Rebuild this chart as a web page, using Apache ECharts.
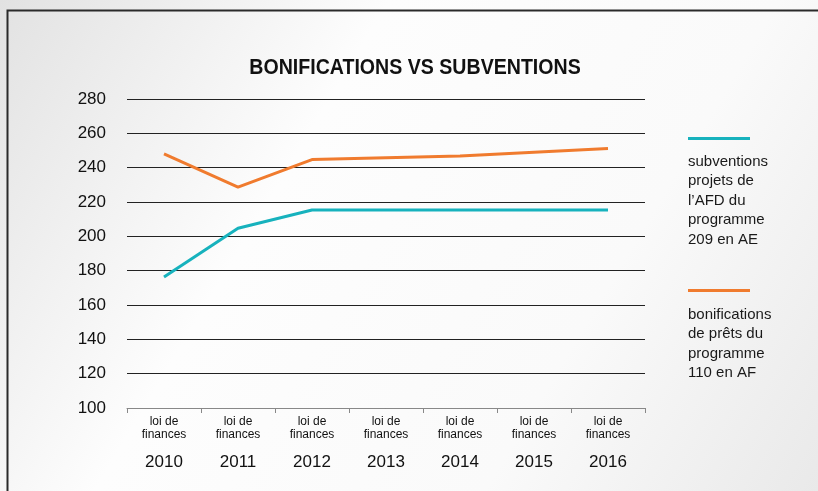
<!DOCTYPE html>
<html><head><meta charset="utf-8">
<script src="https://cdn.jsdelivr.net/npm/echarts@6/dist/echarts.min.js"></script>
<style>html,body{margin:0;padding:0;}#c{width:818px;height:491px;}</style>
</head><body><div id="c"></div>
<script>
var years = ['2010','2011','2012','2013','2014','2015','2016'];
var catPrefix = 'loi de\nfinances';
var yTicks = [100,120,140,160,180,200,220,240,260,280];
var seriesNames = ["subventions\nprojets de\nl\u2019AFD du\nprogramme\n209 en AE", "bonifications\nde prêts du\nprogramme\n110 en AF"];
var subventions = [176.3, 204.7, 215.3, 215.3, 215.3, 215.3, 215.3];
var bonifications = [248, 228.7, 244.7, 245.8, 246.8, 249, 251.2];
var titleText = 'BONIFICATIONS VS SUBVENTIONS';
var colors = ['#17b2bd', '#f07b2e'];
var FF = '"Liberation Sans", Arial, sans-serif';

var chart = echarts.init(document.getElementById('c'));
chart.setOption({
  backgroundColor: {type:'linear', x:0, y:0, x2:1, y2:1, colorStops:[
    {offset:0, color:'#e2e2e2'}, {offset:0.35, color:'#fdfdfd'}, {offset:0.7, color:'#fafafa'}, {offset:1, color:'#e9e9e9'}]},
  animation: false,
  grid: {left: 127, right: 173, top: 99, bottom: 83},
  legend: [0,1].map(function(i){ return {
    data: [seriesNames[i]], left: 688, top: i===0 ? 137 : 289, orient: 'vertical',
    icon: 'rect', itemWidth: 62, itemHeight: 3, formatter: function(){return '';},
    selectedMode: false, itemGap: 0, padding: 0
  };}),
  graphic: [
    {type:'rect', left: 5, top: 8, shape:{width: 830, height: 500}, style:{fill:'none', stroke:'#2a2a2a', lineWidth: 2}, silent:true},
    {type:'text', x: 415, y: 68, scaleX: 0.89, style:{text: titleText, fontSize: 22, fontWeight: 'bold', fontFamily: FF, fill:'#111', textAlign:'center', textVerticalAlign:'middle'}},
    {type:'text', left: 688, top: 152, style:{text: seriesNames[0], fontSize: 15, fontFamily: FF, lineHeight: 19.5, fill:'#1a1a1a'}},
    {type:'text', left: 688, top: 305, style:{text: seriesNames[1], fontSize: 15, fontFamily: FF, lineHeight: 19.5, fill:'#1a1a1a'}}
  ],
  xAxis: {type: 'category', data: years, boundaryGap: true,
    axisLine: {lineStyle: {color: '#888', width: 1}},
    axisTick: {show: true, length: 5, lineStyle: {color: '#888'}},
    axisLabel: {interval: 0, margin: 7, color: '#111',
      formatter: function(v){ return '{a|' + catPrefix + '}\n{b|' + v + '}'; },
      rich: {a: {fontSize: 12, lineHeight: 13, fontFamily: FF, color:'#111'},
             b: {fontSize: 17, lineHeight: 30, fontFamily: FF, color:'#111', verticalAlign:'bottom'}}}
  },
  yAxis: {type: 'value', min: yTicks[0], max: yTicks[yTicks.length-1], interval: 20,
    axisLine: {show: false}, axisTick: {show: false},
    axisLabel: {fontSize: 17, color: '#111', margin: 21, fontFamily: FF},
    splitLine: {lineStyle: {color: '#222', width: 1}}
  },
  series: [
    {name: seriesNames[0], type: 'line', data: subventions, symbol: 'none', lineStyle: {color: colors[0], width: 3}, itemStyle:{color: colors[0]}},
    {name: seriesNames[1], type: 'line', data: bonifications, symbol: 'none', lineStyle: {color: colors[1], width: 3}, itemStyle:{color: colors[1]}}
  ]
});
</script></body></html>
